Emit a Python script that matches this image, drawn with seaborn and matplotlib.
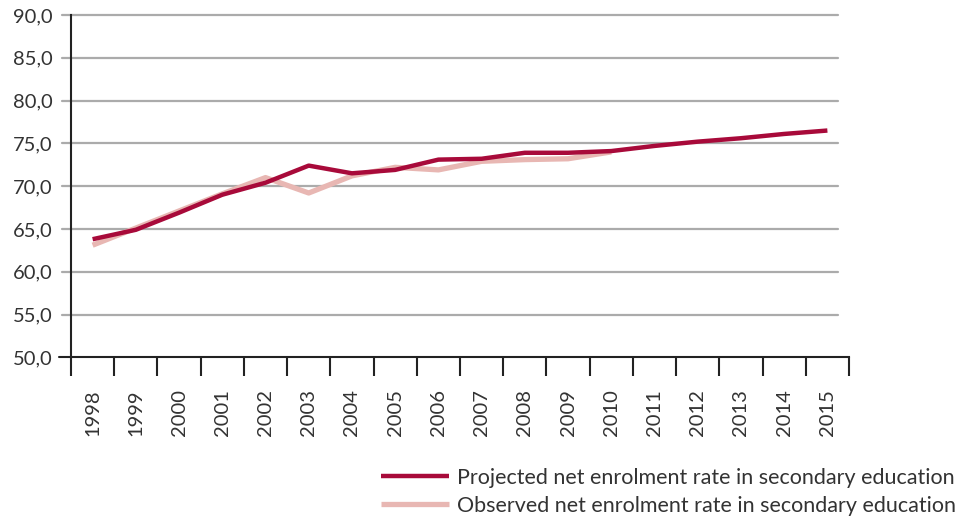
import matplotlib
matplotlib.use("Agg")
import matplotlib.pyplot as plt
import seaborn as sns
import pandas as pd

years = [str(y) for y in range(1998, 2016)]
projected = [63.8, 64.9, 66.9, 69.0, 70.4, 72.4, 71.5, 71.9, 73.1, 73.2,
             73.9, 73.9, 74.1, 74.7, 75.2, 75.6, 76.1, 76.5]
observed_years = [str(y) for y in range(1998, 2011)]
observed = [63.1, 65.1, 67.1, 69.1, 71.0, 69.2, 71.2, 72.2, 71.9, 72.9,
            73.1, 73.2, 74.0]
y_ticks = [50, 55, 60, 65, 70, 75, 80, 85, 90]
y_tick_labels = ["50,0", "55,0", "60,0", "65,0", "70,0", "75,0", "80,0", "85,0", "90,0"]

proj_label = "Projected net enrolment rate in secondary education"
obs_label = "Observed net enrolment rate in secondary education"

proj_color = "#A80A3A"
obs_color = "#E8B7B3"
text_color = "#333333"
grid_color = "#ABABAB"

sns.set_theme(style="white")
plt.rcParams["font.family"] = ["Lato", "DejaVu Sans"]

pos = {y: i for i, y in enumerate(years)}
df_proj = pd.DataFrame({"x": [pos[y] for y in years], "value": projected})
df_obs = pd.DataFrame({"x": [pos[y] for y in observed_years], "value": observed})

fig = plt.figure(figsize=(9.71, 5.23), dpi=100)
ax = fig.add_axes([71 / 971, 1 - 357.3 / 523, 778 / 971, (357.3 - 15) / 523])

sns.lineplot(data=df_obs, x="x", y="value", ax=ax, color=obs_color,
             linewidth=3.8, label=obs_label, solid_capstyle="butt")
sns.lineplot(data=df_proj, x="x", y="value", ax=ax, color=proj_color,
             linewidth=3.2, label=proj_label, solid_capstyle="butt")

ax.set_xlim(-0.5, len(years) - 0.5)
ax.set_ylim(50, 90)

# horizontal gridlines (not at the baseline)
for v in y_ticks[1:]:
    ax.axhline(v, xmin=-9 / 778, xmax=(838 - 71) / 778, color=grid_color,
               linewidth=1.6, zorder=0, clip_on=False)

ax.set_yticks(y_ticks)
ax.set_yticklabels(y_tick_labels)
ax.tick_params(axis="y", which="major", length=0, pad=13, labelsize=14.5,
               labelcolor=text_color)

# category boundaries as major ticks, labels on minor ticks at centers
ax.set_xticks([i - 0.5 for i in range(len(years) + 1)])
ax.set_xticklabels([])
ax.set_xticks(range(len(years)), minor=True)
ax.set_xticklabels(years, minor=True, rotation=90)
ax.tick_params(axis="x", which="major", direction="out", length=14,
               width=1.5, color="#222222", bottom=True)
ax.tick_params(axis="x", which="minor", length=0, pad=23, labelsize=14.5,
               labelcolor=text_color)
for lab in ax.get_xticklabels(minor=True):
    lab.set_verticalalignment("top")

ax.set_xlabel("")
ax.set_ylabel("")
for s in ["top", "right"]:
    ax.spines[s].set_visible(False)
for s in ["left", "bottom"]:
    ax.spines[s].set_color("#222222")
    ax.spines[s].set_linewidth(1.5)
# short extension of the baseline to the left of the axis
ax.plot([-12 / 778, 0], [0, 0], transform=ax.transAxes, color="#222222",
        linewidth=1.5, clip_on=False)

ax.get_legend().remove()
handles, labels = ax.get_legend_handles_labels()
order = [labels.index(proj_label), labels.index(obs_label)]
leg = fig.legend([handles[i] for i in order], [labels[i] for i in order],
                 loc="upper right", bbox_to_anchor=(956 / 971, 1 - 468 / 523),
                 frameon=False, fontsize=15.5, handlelength=3.15,
                 handletextpad=0.37, labelspacing=0.36, borderaxespad=0,
                 borderpad=0)
for t in leg.get_texts():
    t.set_color(text_color)

fig.savefig("out.png", dpi=100)
